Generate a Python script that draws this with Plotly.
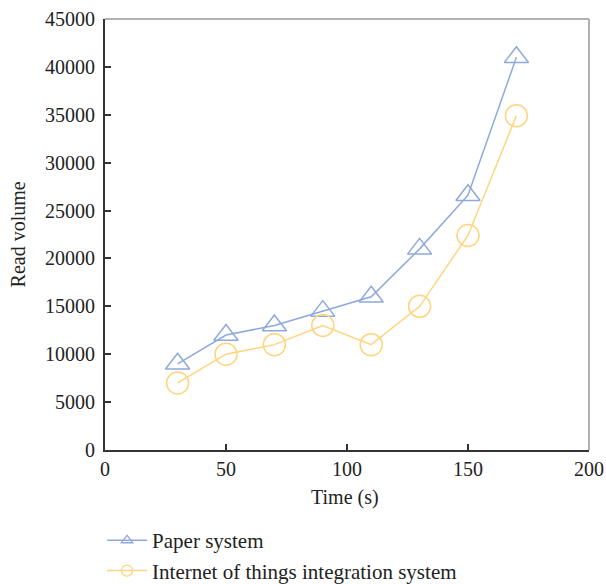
import plotly.graph_objects as go

time_s = [30, 50, 70, 90, 110, 130, 150, 170]
paper_system = [9000, 12000, 13000, 14500, 16000, 21000, 26600, 41000]
iot_system = [7000, 10000, 11000, 13000, 11000, 15000, 22400, 34900]

blue = "#8EA9DB"
yellow = "#FFD47F"
font_family = "Liberation Serif"
fs = 20

fig = go.Figure()
fig.add_trace(go.Scatter(
    x=time_s, y=paper_system, mode="lines+markers", showlegend=False,
    line=dict(color=blue, width=1.5),
    marker=dict(symbol="triangle-up-open", size=21, color=blue, line=dict(width=1.5, color=blue)),
))
fig.add_trace(go.Scatter(
    x=time_s, y=iot_system, mode="lines+markers", showlegend=False,
    line=dict(color=yellow, width=1.5),
    marker=dict(symbol="circle-open", size=22, color=yellow, line=dict(width=1.5, color=yellow)),
))
# legend entries
fig.add_trace(go.Scatter(
    x=[None], y=[None], mode="lines+markers", name="Paper system",
    line=dict(color=blue, width=1.5),
    marker=dict(symbol="triangle-up-open", size=10, color=blue, line=dict(width=1.3, color=blue)),
))
fig.add_trace(go.Scatter(
    x=[None], y=[None], mode="lines+markers", name="Internet of things integration system",
    line=dict(color=yellow, width=1.5),
    marker=dict(symbol="circle-open", size=11, color=yellow, line=dict(width=1.3, color=yellow)),
))

fig.update_layout(
    width=606, height=584,
    margin=dict(l=105, r=17, t=19, b=134, autoexpand=False),
    paper_bgcolor="white", plot_bgcolor="white",
    font=dict(family=font_family, size=fs, color="#222"),
    legend=dict(x=-0.006, y=-0.245, xanchor="left", yanchor="middle",
                font=dict(family=font_family, size=21, color="#222"),
                tracegroupgap=0, itemwidth=40, bgcolor="rgba(0,0,0,0)"),
    xaxis=dict(range=[0, 200], tickvals=[0, 50, 100, 150, 200], showgrid=False, zeroline=False,
               showline=True, linecolor="#333", linewidth=2, ticks="inside", ticklen=6,
               tickcolor="#333", tickwidth=1.5, tickformat="d"),
    yaxis=dict(range=[0, 45000], tickvals=list(range(0, 45001, 5000)), showgrid=False, zeroline=False,
               showline=True, linecolor="#333", linewidth=2, ticks="inside", ticklen=6,
               tickcolor="#333", tickwidth=1.5, tickformat="d", ticklabelstandoff=4),
    annotations=[
        dict(text="Time (s)", xref="paper", yref="paper", x=0.496, y=-0.111,
             xanchor="center", yanchor="middle", showarrow=False, font=dict(size=fs)),
        dict(text="Read volume", xref="paper", yref="paper", x=-0.18, y=0.5, textangle=-90,
             xanchor="center", yanchor="middle", showarrow=False, font=dict(size=fs)),
    ],
    shapes=[
        dict(type="line", xref="paper", yref="paper", x0=0, x1=1, y0=1, y1=1,
             line=dict(color="#999", width=1.5)),
        dict(type="line", xref="paper", yref="paper", x0=1, x1=1, y0=0, y1=1,
             line=dict(color="#999", width=1.5)),
    ],
)

fig.write_html("out.html")
